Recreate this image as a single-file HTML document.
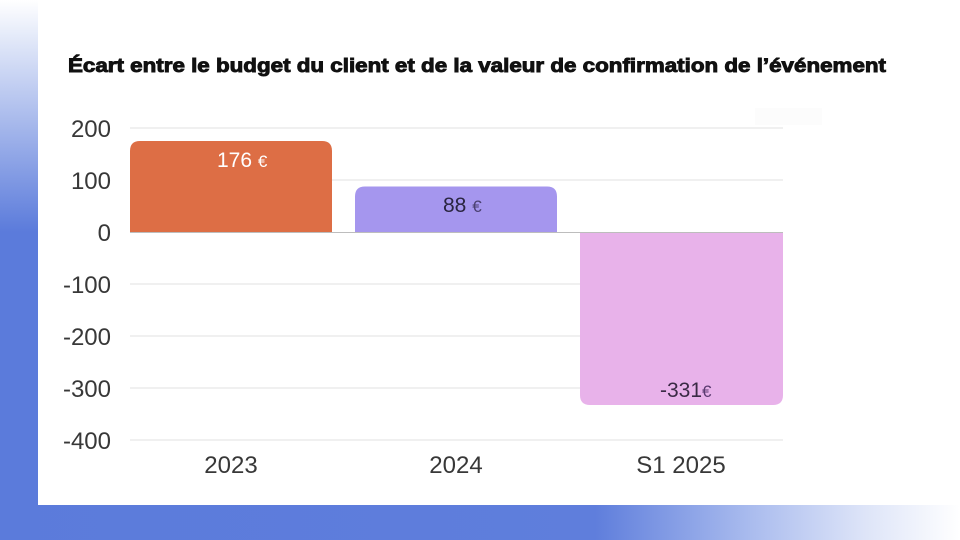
<!DOCTYPE html>
<html><head><meta charset="utf-8"><style>
html,body{margin:0;padding:0;background:#fff;}
svg{display:block;}
</style></head><body>
<svg width="960" height="540" viewBox="0 0 960 540" xmlns="http://www.w3.org/2000/svg">
<defs>
<linearGradient id="lg" x1="0" y1="0" x2="0" y2="1" gradientUnits="objectBoundingBox">
<stop offset="0" stop-color="#ffffff"/>
<stop offset="0.08" stop-color="#dfe6f8"/>
<stop offset="0.43" stop-color="#5b7bdb"/>
<stop offset="1" stop-color="#5b7bdb"/>
</linearGradient>
<linearGradient id="bg" x1="0" y1="0" x2="1" y2="0" gradientUnits="objectBoundingBox">
<stop offset="0" stop-color="#5b7bdb"/>
<stop offset="0.62" stop-color="#5f7edc"/>
<stop offset="0.78" stop-color="#a9bbee"/>
<stop offset="0.9" stop-color="#dde4f8"/>
<stop offset="1" stop-color="#ffffff"/>
</linearGradient>
</defs>
<rect x="0" y="0" width="960" height="540" fill="#fff"/>
<rect x="0" y="0" width="38" height="540" fill="url(#lg)"/>
<rect x="0" y="505" width="960" height="35" fill="url(#bg)"/>
<rect x="38" y="0" width="922" height="505" fill="#fff"/>
<rect x="755" y="108" width="67" height="17" fill="#fcfcfc"/>

<text x="68" y="72" font-family="Liberation Sans, sans-serif" font-weight="bold" font-size="19" fill="#111" stroke="#111" stroke-width="0.9" textLength="818" lengthAdjust="spacingAndGlyphs">Écart entre le budget du client et de la valeur de confirmation de l’événement</text>

<g stroke="#e6e6e6" stroke-width="1.3">
<line x1="130" y1="128" x2="783" y2="128"/>
<line x1="130" y1="180" x2="783" y2="180"/>
<line x1="130" y1="284" x2="783" y2="284"/>
<line x1="130" y1="336" x2="783" y2="336"/>
<line x1="130" y1="388" x2="783" y2="388"/>
<line x1="130" y1="440" x2="783" y2="440"/>
</g>

<path d="M130,232 L130,151 Q130,141 140,141 L322,141 Q332,141 332,151 L332,232 Z" fill="#dd6e45"/>
<path d="M355,232 L355,196.5 Q355,186.5 365,186.5 L547,186.5 Q557,186.5 557,196.5 L557,232 Z" fill="#a596ee"/>
<path d="M580,232 L783,232 L783,395 Q783,405 773,405 L590,405 Q580,405 580,395 Z" fill="#e8b2ea"/>
<line x1="130" y1="232.5" x2="783" y2="232.5" stroke="#bdbdbd" stroke-width="1"/>

<g font-family="Liberation Sans, sans-serif" font-size="24" fill="#383838" text-anchor="end">
<text x="111" y="137">200</text>
<text x="111" y="189">100</text>
<text x="111" y="241">0</text>
<text x="111" y="293">-100</text>
<text x="111" y="345">-200</text>
<text x="111" y="397">-300</text>
<text x="111" y="449">-400</text>
</g>
<g font-family="Liberation Sans, sans-serif" font-size="24" fill="#383838" text-anchor="middle">
<text x="231" y="473">2023</text>
<text x="456" y="473">2024</text>
<text x="681" y="473">S1 2025</text>
</g>

<g font-family="Liberation Sans, sans-serif" font-size="21">
<text x="217" y="167" fill="#fff">176 <tspan font-size="17">€</tspan></text>
<text x="443" y="212" fill="#2a2540">88 <tspan font-size="17" fill="#4a4070">€</tspan></text>
<text x="660" y="397" fill="#3a2a45">-331<tspan font-size="17" fill="#5a3a70">€</tspan></text>
</g>
</svg>
</body></html>
